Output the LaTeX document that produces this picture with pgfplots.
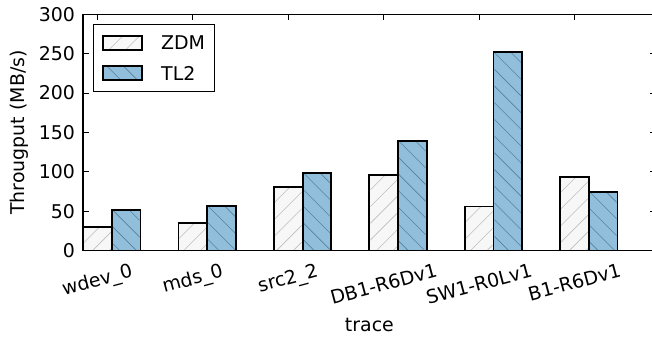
\documentclass[border=0pt]{standalone}
\usepackage{fontspec}
\setmainfont{DejaVu Sans}
\usepackage{pgfplots}
\pgfplotsset{compat=1.18}
\definecolor{zdmfill}{HTML}{F7F7F7}
\definecolor{tlfill}{HTML}{91BFDB}
\definecolor{zdmhatch}{HTML}{BEBEBE}
\definecolor{tlhatch}{HTML}{5A7F99}
% hatch marks: origin at the bar top centre, clipped inside the bar; bottom clipped by the axis
\pgfdeclareplotmark{zdmh}{%
  \begin{pgfscope}%
  \pgfpathrectanglecorners{\pgfqpoint{-13.41bp}{-0.9bp}}{\pgfqpoint{13.41bp}{-260bp}}%
  \pgfusepath{clip}%
  \pgfsetlinewidth{0.6bp}%
  \pgfsetstrokecolor{zdmhatch}%
  \foreach \k in {0,...,17}{%
    \pgfpathmoveto{\pgfpoint{-14.31bp}{\k*16.7bp-250bp}}%
    \pgfpathlineto{\pgfpoint{14.31bp}{\k*16.7bp-221.38bp}}%
    \pgfusepath{stroke}}%
  \end{pgfscope}}
\pgfdeclareplotmark{tlh}{%
  \begin{pgfscope}%
  \pgfpathrectanglecorners{\pgfqpoint{-13.41bp}{-0.9bp}}{\pgfqpoint{13.41bp}{-260bp}}%
  \pgfusepath{clip}%
  \pgfsetlinewidth{0.6bp}%
  \pgfsetstrokecolor{tlhatch}%
  \foreach \k in {0,...,18}{%
    \pgfpathmoveto{\pgfpoint{-14.31bp}{\k*16.7bp-250bp}}%
    \pgfpathlineto{\pgfpoint{14.31bp}{\k*16.7bp-278.62bp}}%
    \pgfusepath{stroke}}%
  \end{pgfscope}}
\begin{document}
\begin{tikzpicture}
\pgfplotstableread{
x y
0 30
1 35.5
2 81
3 96.5
4 56
5 94
}\zdm
\pgfplotstableread{
x y
0.3 52
1.3 57
2.3 99
3.3 139.6
4.3 252
5.3 75
}\tl
\begin{axis}[
  name=ax,
  scale only axis,
  width=572.4bp, height=236.4bp,
  xmin=-0.15, xmax=5.85, ymin=0, ymax=300,
  clip marker paths=true,
  ytick={0,50,100,150,200,250,300},
  xtick={0,1,2,3,4,5},
  xticklabels={\rotatebox{15}{wdev\_0},\rotatebox{15}{mds\_0},\rotatebox{15}{src2\_2},\rotatebox{15}{DB1-R6Dv1},\rotatebox{15}{SW1-R0Lv1},\rotatebox{15}{B1-R6Dv1}},
  tick align=inside,
  major tick length=6bp,
  every tick/.style={black, line width=1bp},
  axis line style={line width=1.5bp},
  /pgf/number format/assume math mode=true,
  tick label style={font=\fontsize{19}{22}\selectfont},
  yticklabel style={anchor=east, inner sep=0pt, xshift=-8bp},
  xticklabel style={anchor=north, inner sep=0pt, yshift=-12bp},
  label style={font=\fontsize{19}{22}\selectfont},
  xlabel={trace},
  ylabel={Througput (MB/s)},
  xlabel style={at={(axis description cs:0.5,-0.3397)}, anchor=base, inner sep=0pt},
  ylabel style={at={(axis description cs:-0.1122,0.5)}, anchor=center, inner sep=0pt},
  legend cell align=left,
  legend style={
    at={(axis description cs:0.0166,0.959)}, anchor=north west,
    draw=black, line width=0.8bp, fill=white,
    inner xsep=9bp, inner ysep=10.5bp,
    row sep=14.7bp,
    font=\fontsize{19}{22}\selectfont,
    nodes={inner sep=0pt, text height=14bp, text depth=0bp},
    /tikz/every odd column/.append style={column sep=18bp},
  },
]
% ZDM
\addplot[ybar, bar width=0.3, bar shift=0pt, fill=zdmfill, draw=black, line width=1.8bp,
  legend image code/.code={%
    \path[fill=zdmfill, draw=none] (0bp,-7bp) rectangle (39.3bp,7bp);
    \path[draw=zdmhatch, fill=none, line width=0.6bp] (6bp,-7bp) -- (20bp,7bp) (22.7bp,-7bp) -- (36.7bp,7bp);
    \path[draw=black, fill=none, line width=1.8bp] (0bp,-7bp) rectangle (39.3bp,7bp);}]
  table[x=x, y=y] {\zdm};
\addlegendentry{ZDM}
% TL2
\addplot[ybar, bar width=0.3, bar shift=0pt, fill=tlfill, draw=black, line width=1.8bp,
  legend image code/.code={%
    \path[fill=tlfill, draw=none] (0bp,-7bp) rectangle (39.3bp,7bp);
    \path[draw=tlhatch, fill=none, line width=0.6bp] (4bp,7bp) -- (18bp,-7bp) (20.7bp,7bp) -- (34.7bp,-7bp);
    \path[draw=black, fill=none, line width=1.8bp] (0bp,-7bp) rectangle (39.3bp,7bp);}]
  table[x=x, y=y] {\tl};
\addlegendentry{TL2}
% hatching
\addplot[only marks, mark=zdmh, forget plot] table[x=x, y=y] {\zdm};
\addplot[only marks, mark=tlh, forget plot] table[x=x, y=y] {\tl};
% borders on top
\addplot[ybar, bar width=0.3, bar shift=0pt, fill=none, draw=black, line width=1.8bp, forget plot] table[x=x, y=y] {\zdm};
\addplot[ybar, bar width=0.3, bar shift=0pt, fill=none, draw=black, line width=1.8bp, forget plot] table[x=x, y=y] {\tl};
\end{axis}
\pgfresetboundingbox
\path[use as bounding box] (ax.south west) ++(-83.2bp,-88.3bp) rectangle ++(652bp,339bp);
\end{tikzpicture}
\end{document}
